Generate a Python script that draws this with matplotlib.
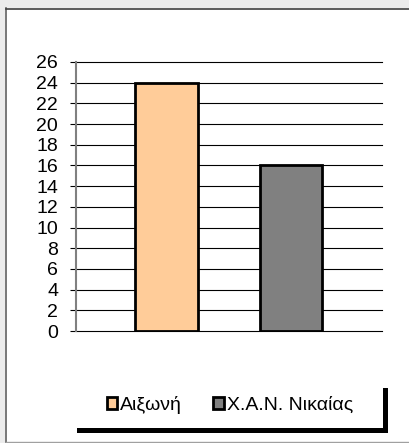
import matplotlib
matplotlib.use("Agg")
import matplotlib.pyplot as plt
from matplotlib.patches import Rectangle
from matplotlib.lines import Line2D

# data
series = ['Αιξωνή', 'Χ.Α.Ν. Νικαίας']
values = [24, 16]
colors = ['#FFCC99', '#808080']
yticks = list(range(0, 27, 2))

plt.rcParams['font.family'] = ['Liberation Sans', 'DejaVu Sans']

W, H = 409, 443
fig = plt.figure(figsize=(W / 100, H / 100), dpi=100)

def px(x0, y0, w, h):
    # pixel box (from top-left) -> figure fraction
    return (x0 / W, 1 - (y0 + h) / H, w / W, h / H)

# outer frame: light gray margin on top/left, white panel
fig.patch.set_facecolor('#ececec')
fx, fy, fw, fh = px(5, 8, W - 5, H - 9)
fig.patches.append(Rectangle((fx, fy), fw, fh, transform=fig.transFigure,
                             facecolor='white', edgecolor='none', zorder=-2))
fig.lines.append(Line2D([5.5 / W, 5.5 / W], [1 - 8 / H, 1 - 442 / H], transform=fig.transFigure, color='#606060', lw=1.2, zorder=-1))
fig.lines.append(Line2D([5.5 / W, 1], [1 - 8.5 / H, 1 - 8.5 / H], transform=fig.transFigure, color='#404040', lw=1.2, zorder=-1))
fig.lines.append(Line2D([5.5 / W, 1], [1 - 441.5 / H, 1 - 441.5 / H], transform=fig.transFigure, color='#a0a0a0', lw=1.0, zorder=-1))

ax = fig.add_axes(px(76, 62, 306, 269))
ax.set_facecolor('none')
x = list(range(len(series)))
bars = ax.bar(x, values, width=0.506, color=colors, edgecolor='black', linewidth=2, zorder=3)
ax.set_xlim(-0.727, 1.731)
ax.set_ylim(0, 26)
ax.set_yticks(yticks)
ax.set_yticklabels([str(t) for t in yticks], fontsize=14)
ax.set_xticks([])
ax.yaxis.grid(True, color='black', linewidth=0.8, clip_on=False)
ax.set_axisbelow(True)
ax.tick_params(axis='y', direction='out', length=4.3, width=0.8, color='black', pad=8.5)
for s in ['top', 'right', 'bottom']:
    ax.spines[s].set_visible(False)
ax.spines['left'].set_color('#808080')
ax.spines['left'].set_linewidth(1.5)
ax.spines['left'].set_zorder(4)

# legend box with shadow
sx, sy, sw, sh = px(77, 388, 311, 45)
fig.patches.append(Rectangle((sx, sy), sw, sh, transform=fig.transFigure, facecolor='black', edgecolor='none', zorder=1))
bx, by, bw, bh = px(72, 383, 311, 45)
fig.patches.append(Rectangle((bx, by), bw, bh, transform=fig.transFigure, facecolor='white', edgecolor='none', zorder=1.5))

handles = [Rectangle((0, 0), 1, 1, facecolor=c, edgecolor='black', linewidth=2) for c in colors]
fig.legend(handles, series, loc='center', bbox_to_anchor=(230 / W, 1 - 405 / H), ncol=2,
           frameon=False, fontsize=14, handlelength=0.55, handleheight=0.55,
           handletextpad=0.15, columnspacing=1.6, borderpad=0)

fig.savefig('out.png', dpi=100, facecolor=fig.get_facecolor())
